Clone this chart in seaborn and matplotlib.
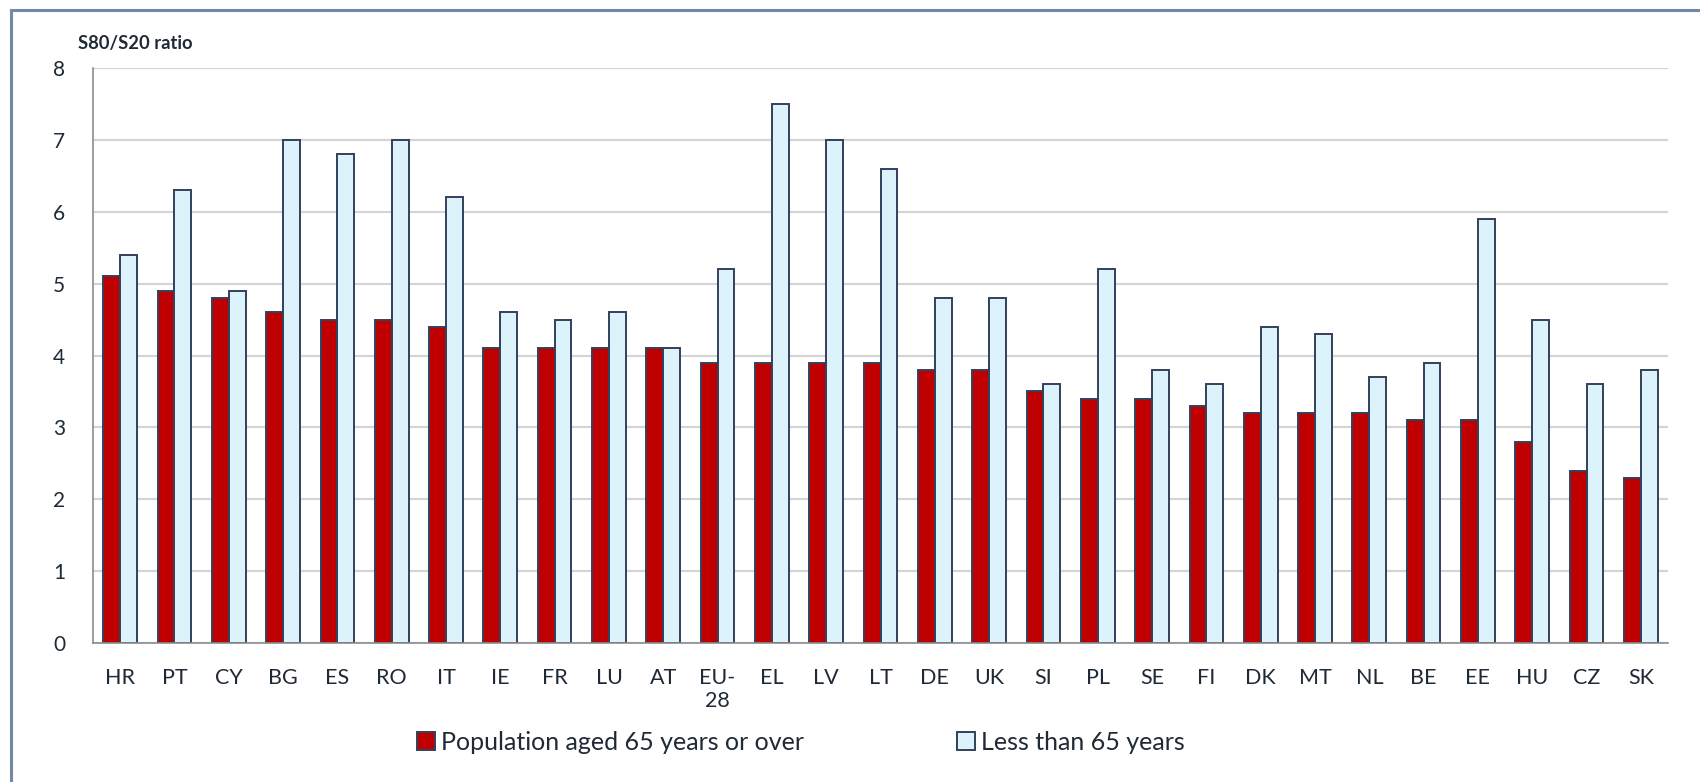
import matplotlib
matplotlib.use("Agg")
import matplotlib.pyplot as plt
import seaborn as sns
import pandas as pd
import numpy as np
from matplotlib.patches import Rectangle, Patch

countries = ["HR", "PT", "CY", "BG", "ES", "RO", "IT", "IE", "FR", "LU", "AT", "EU-28",
             "EL", "LV", "LT", "DE", "UK", "SI", "PL", "SE", "FI", "DK", "MT", "NL",
             "BE", "EE", "HU", "CZ", "SK"]
aged_65_over = [5.1, 4.9, 4.8, 4.6, 4.5, 4.5, 4.4, 4.1, 4.1, 4.1, 4.1, 3.9,
                3.9, 3.9, 3.9, 3.8, 3.8, 3.5, 3.4, 3.4, 3.3, 3.2, 3.2, 3.2,
                3.1, 3.1, 2.8, 2.4, 2.3]
less_than_65 = [5.4, 6.3, 4.9, 7.0, 6.8, 7.0, 6.2, 4.6, 4.5, 4.6, 4.1, 5.2,
                7.5, 7.0, 6.6, 4.8, 4.8, 3.6, 5.2, 3.8, 3.6, 4.4, 4.3, 3.7,
                3.9, 5.9, 4.5, 3.6, 3.8]
series_names = ["Population aged 65 years or over", "Less than 65 years"]
tick_labels = [c if c != "EU-28" else "EU-\n28" for c in countries]
y_ticks = [0, 1, 2, 3, 4, 5, 6, 7, 8]

df = pd.DataFrame({
    "country": countries * 2,
    "value": aged_65_over + less_than_65,
    "series": [series_names[0]] * len(countries) + [series_names[1]] * len(countries),
})

sns.set_theme(style="white")
plt.rcParams["font.family"] = ["Lato", "DejaVu Sans"]
text_color = "#1f2a36"

fig = plt.figure(figsize=(17, 7.82), dpi=100)
ax = fig.add_axes([0.0547, 0.1777, 0.9265, 0.7353])

palette = {series_names[0]: "#C00000", series_names[1]: "#DDF3FB"}
sns.barplot(data=df, x="country", y="value", hue="series", order=countries,
            hue_order=series_names, palette=palette, width=0.62, dodge=True,
            edgecolor="#34405a", linewidth=1.4, saturation=1, ax=ax, legend=False)

ax.set_ylim(0, 8)
ax.set_xlim(-0.5, len(countries) - 0.5)
ax.set_yticks(y_ticks)
ax.set_yticklabels([str(t) for t in y_ticks], fontsize=15, color=text_color)
ax.yaxis.grid(True, color="#d4d4d4", linewidth=1.6)
ax.set_axisbelow(True)
ax.set_xticks(range(len(countries)))
ax.set_xticklabels(tick_labels, fontsize=15.5, color=text_color, va="top")
ax.set_xticks(np.arange(-0.5, len(countries), 1.0), minor=True)
ax.tick_params(axis="x", which="major", length=0, pad=18)
ax.tick_params(axis="x", which="minor", length=9, width=1.2, color="#8c8c8c", direction="out")
ax.tick_params(axis="y", which="major", length=10, width=1.2, color="#8c8c8c", direction="out", pad=10)
ax.set_xlabel("")
ax.set_ylabel("")
for s in ["top", "right"]:
    ax.spines[s].set_visible(False)
for s in ["left", "bottom"]:
    ax.spines[s].set_color("#8c8c8c")
    ax.spines[s].set_linewidth(1.2)

fig.text(78 / 1700, 1 - 43 / 782, "S80/S20 ratio", fontsize=13.2, fontweight="bold",
         color=text_color, va="center", ha="left")

handles = [Patch(facecolor=palette[n], edgecolor="#34405a", linewidth=1.4, label=n) for n in series_names]
leg = fig.legend(handles=handles, loc="center left", bbox_to_anchor=(417 / 1700, 1 - 742 / 782),
                 ncol=2, frameon=False, fontsize=18, handlelength=0.72, handleheight=0.72,
                 handletextpad=0.25, columnspacing=6.1, borderaxespad=0, borderpad=0)
for t in leg.get_texts():
    t.set_color(text_color)

border = Rectangle((11 / 1700, -0.05), 1.2, 1 - 10 / 782 + 0.05, transform=fig.transFigure,
                   fill=False, edgecolor="#7387ab", linewidth=2.2, zorder=10)
fig.patches.append(border)

fig.savefig("out.png", dpi=100, facecolor="white")
